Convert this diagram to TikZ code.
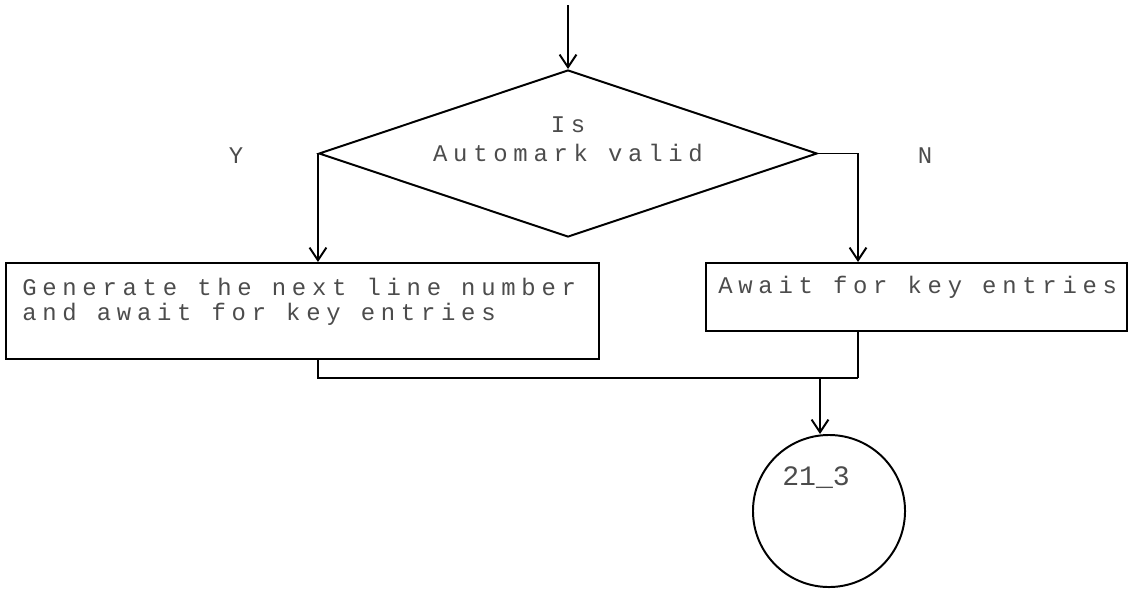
\documentclass[tikz,border=0pt]{standalone}
\usepackage{fontspec}
\setmonofont{Liberation Mono}
\newfontfamily\dotfont[LetterSpace=24]{Liberation Mono}
\usetikzlibrary{shapes.geometric,arrows.meta}
\begin{document}
\begin{tikzpicture}[x=0.025cm,y=-0.025cm,
  line/.style={line width=1.4pt,black},
  flow/.style={line,-{Straight Barb[length=9pt,width=12pt,line width=1.4pt]}},
  txt/.style={font=\dotfont\fontsize{17}{24}\selectfont,text=black!70,inner sep=0pt},
  procbox/.style={line,draw,rectangle,inner sep=0pt,anchor=north west}]
\useasboundingbox (0,0) rectangle (1129,593);

% entry point and decision
\coordinate (start) at (568,5);
\node[line,draw,diamond,minimum width=12.45cm,minimum height=4.175cm,inner sep=0pt] (dec) at (568,153.5) {};
\node[txt] (q1) at (568,125) {Is};
\node[txt] (q2) at (568,153) {Automark valid};
\node[txt] (yes) at (236,156) {Y};
\node[txt] (no) at (925,156) {N};

% process boxes
\node[procbox,minimum width=14.825cm,minimum height=2.4cm] (gen) at (5,262) {};
\node[txt,anchor=west] (g1) at (22,287) {Generate the next line number};
\node[txt,anchor=west] (g2) at (22,314) {and await for key entries};
\node[procbox,minimum width=10.525cm,minimum height=1.7cm] (wait) at (705,262) {};
\node[txt,anchor=west] (w1) at (718,287) {Await for key entries};

% connector
\node[line,draw,circle,minimum size=3.8cm,inner sep=0pt] (conn) at (829,511) {};
\node[txt,font=\ttfamily\fontsize{20}{24}\selectfont] (c1) at (816,478) {21\_3};

% flow lines
\coordinate (merge) at (858,378);
\coordinate (mid) at (820,378);
\draw[flow] (start) -- (dec.north);
\draw[flow] (dec.west) -- (gen.north west -| dec.west);
\draw[flow] (dec.east) -- (dec.east -| merge) -- (wait.north west -| merge);
\draw[line] (gen.south west -| dec.west) |- (merge);
\draw[line] (wait.south west -| merge) -- (merge);
\draw[flow] (mid) -- (conn.north -| mid);
\end{tikzpicture}
\end{document}
